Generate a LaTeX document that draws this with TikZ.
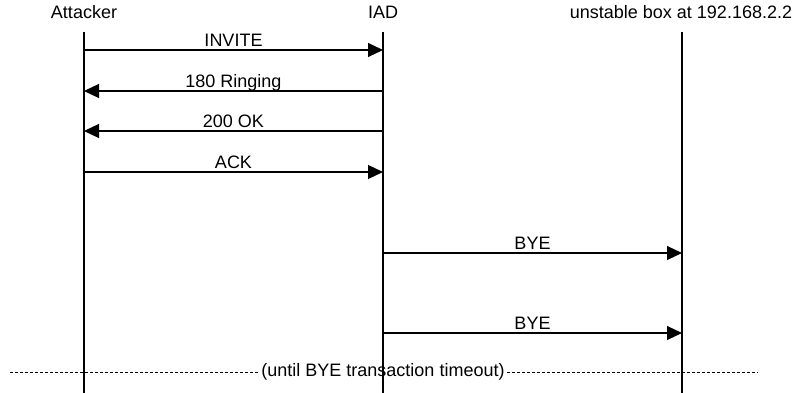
\documentclass[tikz,border=0pt]{standalone}
\usepackage{fontspec}
\setmainfont{Liberation Sans}
\usetikzlibrary{arrows.meta,positioning,calc}

\begin{document}
\begin{tikzpicture}[x=1pt, y=-1pt, font=\fontsize{18}{21}\selectfont,
    party/.style={anchor=base, inner sep=0pt},
    lifeline/.style={line width=1.2pt},
    msg/.style={line width=1.2pt, -{Triangle[length=15pt, width=14pt]}},
    lbl/.style={midway, anchor=base, yshift=3.5pt, inner sep=0pt}]
  \useasboundingbox (0,0) rectangle (795,393);

  % participants
  \node[party] (attacker) at (84,19) {Attacker};
  \node[party] (iad) at (383,19) {IAD};
  \node[party] (box) at (681,19) {unstable box at 192.168.2.2};

  % lifelines
  \foreach \n/\x in {attacker/84, iad/383, box/682} {
    \coordinate (\n-top) at (\x,32);
    \coordinate (\n-end) at (\x,393);
    \draw[lifeline] (\n-top) -- (\n-end);
  }

  % message points on each lifeline
  \foreach \i/\y in {1/50, 2/91, 3/131, 4/172, 5/253, 6/333} {
    \coordinate (A-\i) at (84,\y);
    \coordinate (I-\i) at (383,\y);
    \coordinate (U-\i) at (682,\y);
  }

  \draw[msg] (A-1) -- node[lbl] {INVITE} (I-1);
  \draw[msg] (I-2) -- node[lbl] {180 Ringing} (A-2);
  \draw[msg] (I-3) -- node[lbl] {200 OK} (A-3);
  \draw[msg] (A-4) -- node[lbl] {ACK} (I-4);
  \draw[msg] (I-5) -- node[lbl] {BYE} (U-5);
  \draw[msg] (I-6) -- node[lbl] {BYE} (U-6);

  % timeout note
  \node[inner sep=2pt] (note) at (383,372) {(until BYE transaction timeout)};
  \coordinate (dl) at (10,372);
  \coordinate (dr) at (757,372);
  \draw[line width=0.8pt, dash pattern=on 3pt off 2pt] (dl) -- (note.west);
  \draw[line width=0.8pt, dash pattern=on 3pt off 2pt] (note.east) -- (dr);
\end{tikzpicture}
\end{document}
